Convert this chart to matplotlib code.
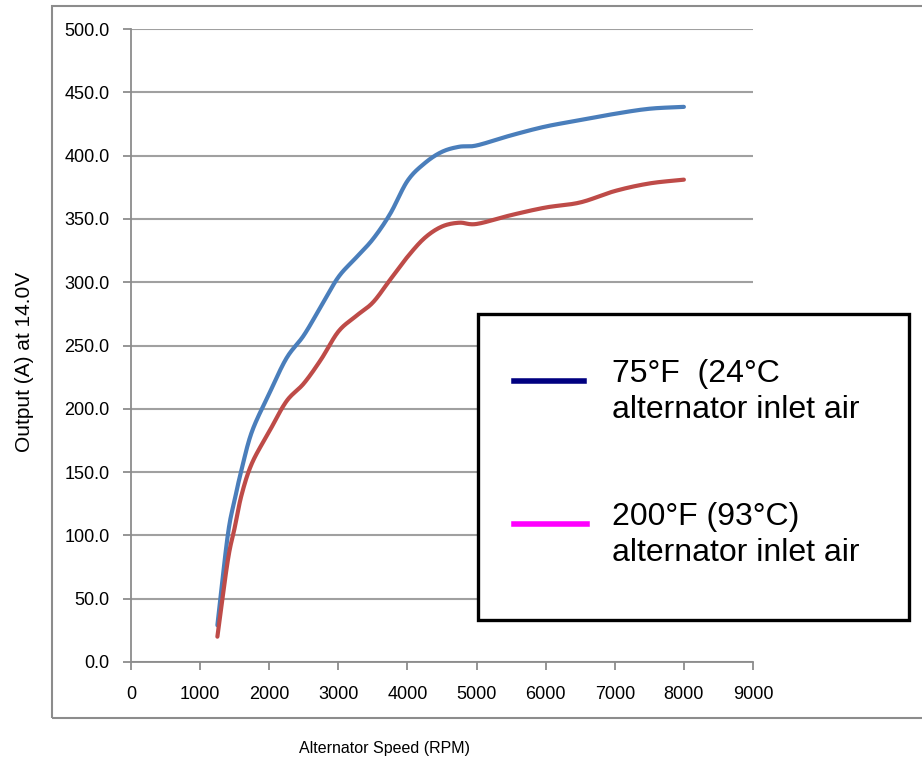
import numpy as np
import matplotlib
matplotlib.use("Agg")
import matplotlib.pyplot as plt
from matplotlib.patches import Rectangle
from matplotlib.lines import Line2D

# ---- data ----
rpm = [1250, 1400, 1500, 1600, 1750, 2000, 2250, 2500, 2750, 3000, 3250, 3500,
       3750, 4000, 4250, 4500, 4750, 5000, 5500, 6000, 6500, 7000, 7500, 8000]
out_75F = [29, 100, 128, 152, 182, 212, 240, 258, 281, 304, 319, 334,
           354, 380, 394, 403, 407, 408, 416, 423, 428, 433, 437, 438.5]
out_200F = [20, 80, 106, 132, 157, 182, 206, 220, 239, 261, 273, 284,
            302, 320, 335, 344, 347, 346, 353, 359, 363, 372, 378, 381]

legend_labels = ["75\u00b0F  (24\u00b0C\nalternator inlet air",
                 "200\u00b0F (93\u00b0C)\nalternator inlet air"]
x_ticks = list(range(0, 9001, 1000))
y_ticks = [i * 50.0 for i in range(11)]
x_title = "Alternator Speed (RPM)"
y_title = "Output (A) at 14.0V"


def smooth(x, y, n=20):
    """Catmull-Rom smoothing for display (like a smoothed line chart)."""
    x = np.asarray(x, float); y = np.asarray(y, float)
    px = np.concatenate([[2 * x[0] - x[1]], x, [2 * x[-1] - x[-2]]])
    py = np.concatenate([[2 * y[0] - y[1]], y, [2 * y[-1] - y[-2]]])
    xs, ys = [], []
    t = np.linspace(0, 1, n, endpoint=False)
    for i in range(1, len(px) - 2):
        for p, out in ((px, xs), (py, ys)):
            p0, p1, p2, p3 = p[i - 1], p[i], p[i + 1], p[i + 2]
            out.extend(0.5 * ((2 * p1) + (-p0 + p2) * t +
                              (2 * p0 - 5 * p1 + 4 * p2 - p3) * t ** 2 +
                              (-p0 + 3 * p1 - 3 * p2 + p3) * t ** 3))
    xs.append(x[-1]); ys.append(y[-1])
    return np.array(xs), np.array(ys)


W, H = 922, 761
fig = plt.figure(figsize=(W / 100, H / 100), dpi=100)
fig.patch.set_facecolor("white")

# outer chart border
fig.add_artist(Rectangle((52 / W, 1 - 718 / H), 1.0, (718 - 6) / H,
                         transform=fig.transFigure, fill=False,
                         edgecolor="#8c8c8c", lw=1.5, clip_on=False))

ax = fig.add_axes([131 / W, 1 - 662 / H, (753 - 131) / W, (662 - 29) / H])
ax.set_xlim(0, 9000)
ax.set_ylim(0, 500)

for s in ["top", "right"]:
    ax.spines[s].set_visible(False)
for s in ["left", "bottom"]:
    ax.spines[s].set_color("#8c8c8c")
    ax.spines[s].set_linewidth(1.3)

ax.set_xticks(x_ticks)
ax.set_yticks(y_ticks)
ax.set_xticklabels([str(v) for v in x_ticks])
ax.set_yticklabels([f"{v:.1f}" for v in y_ticks])
ax.tick_params(axis="both", colors="#8c8c8c", labelcolor="black",
               labelsize=13, width=1.3, length=6, direction="out")
ax.tick_params(axis="y", pad=9.5)
ax.tick_params(axis="x", pad=11)
for lab in ax.get_xticklabels() + ax.get_yticklabels():
    lab.set_family(["Liberation Sans", "DejaVu Sans"])

ax.yaxis.grid(True, color="#a0a0a0", lw=1.5)
ax.set_axisbelow(True)

bx, by = smooth(rpm, out_75F)
rx, ry = smooth(rpm, out_200F)
ax.plot(bx, by, color="#4a7ebb", lw=3.0, solid_capstyle="round", zorder=3)
ax.plot(rx, ry, color="#be4b48", lw=3.0, solid_capstyle="round", zorder=3)

# axis titles
fig.text(384 / W, 1 - 748 / H, x_title, ha="center", va="center",
         fontsize=11.5, family=["Liberation Sans", "DejaVu Sans"])
fig.text(24 / W, 1 - 362 / H, y_title, ha="center", va="center",
         rotation=90, fontsize=15, family=["Liberation Sans", "DejaVu Sans"])

# legend box
fig.add_artist(Rectangle((478 / W, 1 - 620 / H), (909 - 478) / W, (620 - 314) / H,
                         transform=fig.transFigure, facecolor="white",
                         edgecolor="black", lw=2.4, zorder=5))
fig.add_artist(Line2D([514 / W, 584 / W], [1 - 381 / H, 1 - 381 / H],
                      transform=fig.transFigure, color="#000080", lw=4, zorder=6))
fig.add_artist(Line2D([514 / W, 587 / W], [1 - 524 / H, 1 - 524 / H],
                      transform=fig.transFigure, color="#ff00ff", lw=4, zorder=6))
fig.text(612 / W, 1 - 392 / H, legend_labels[0], ha="left", va="center",
         fontsize=23, linespacing=1.25, zorder=7,
         family=["Liberation Sans", "DejaVu Sans"])
fig.text(612 / W, 1 - 535 / H, legend_labels[1], ha="left", va="center",
         fontsize=23, linespacing=1.25, zorder=7,
         family=["Liberation Sans", "DejaVu Sans"])

fig.savefig("out.png", dpi=100, facecolor="white")
